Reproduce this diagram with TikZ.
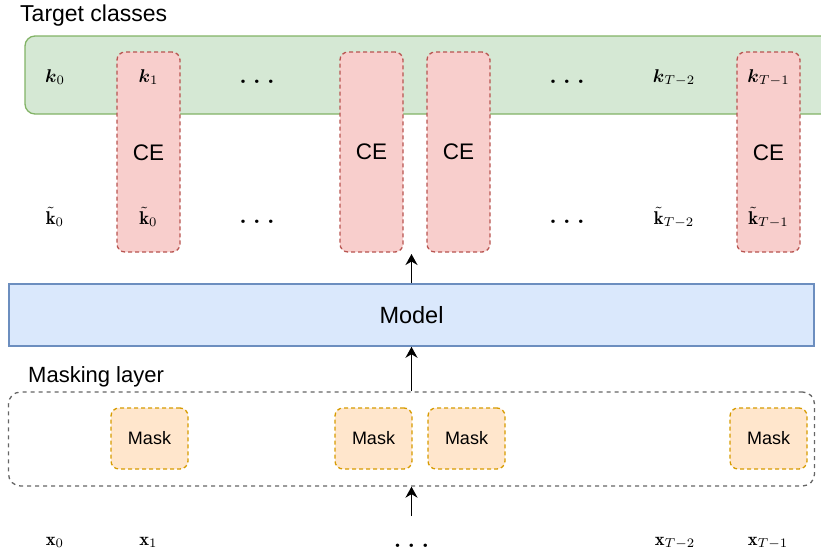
\RequirePackage{fix-cm}
\documentclass[tikz,border=0pt]{standalone}
\usepackage{amsmath}
\usepackage{graphicx}
\usepackage{fontspec}
\newfontfamily\lsans{Liberation Sans}
\usetikzlibrary{arrows.meta}

\definecolor{greenfill}{HTML}{D5E8D4}
\definecolor{greenline}{HTML}{82B366}
\definecolor{redfill}{HTML}{F8CECC}
\definecolor{redline}{HTML}{B85450}
\definecolor{bluefill}{HTML}{DAE8FC}
\definecolor{blueline}{HTML}{6C8EBF}
\definecolor{orangefill}{HTML}{FFE6CC}
\definecolor{orangeline}{HTML}{D79B00}
\definecolor{grayline}{HTML}{666666}

% math labels are set at 10pt and enlarged
\newcommand{\bigmath}[1]{\scalebox{1.85}{$#1$}}

\tikzset{
  mathlbl/.style={anchor=base, inner sep=0pt},
  dotslbl/.style={font=\fontsize{24}{26}\selectfont\bfseries, anchor=base, inner sep=0pt},
  title/.style={font=\lsans\fontsize{22}{26}\selectfont, anchor=west, inner sep=0pt},
  targetband/.style={draw=greenline, fill=greenfill, line width=1.3pt, rounded corners=10pt,
    minimum width=815pt, minimum height=78pt, inner sep=0pt},
  cebox/.style={draw=redline, fill=redfill, line width=1.3pt, dash pattern=on 4pt off 3pt,
    rounded corners=8pt, minimum width=63pt, minimum height=200pt, inner sep=0pt,
    font=\lsans\fontsize{22.5}{26}\selectfont},
  celbl/.style={font=\lsans\fontsize{22.5}{26}\selectfont},
  modelbox/.style={draw=blueline, fill=bluefill, line width=1.5pt,
    minimum width=805pt, minimum height=62pt, inner sep=0pt,
    font=\lsans\fontsize{23.5}{27}\selectfont},
  layerbox/.style={draw=grayline, line width=1.3pt, dash pattern=on 4pt off 4pt,
    rounded corners=12pt, minimum width=806pt, minimum height=94pt, inner sep=0pt},
  maskbox/.style={draw=orangeline, fill=orangefill, line width=1.3pt, dash pattern=on 4pt off 3pt,
    rounded corners=8pt, minimum width=77pt, minimum height=61pt, inner sep=0pt,
    font=\lsans\fontsize{18}{21}\selectfont},
  arr/.style={-{Stealth[length=11pt,width=12pt,inset=3.5pt]}, line width=1.6pt, black}
}

\begin{document}
\begin{tikzpicture}[x=1pt, y=-1pt]
  \useasboundingbox (0,0) rectangle (821,554);
  \clip (0,0) rectangle (821,554);

  % target classes band
  \node[title, font=\lsans\fontsize{23}{27}\selectfont] (ttitle) at (20,16) {Target classes};
  \node[targetband] (targets) at (432.5,75) {};

  % cross-entropy columns
  \node[cebox] (ce1) at (148.5,152) {};
  \node[cebox] (ce2) at (371.5,152) {CE};
  \node[cebox] (ce3) at (458.5,152) {CE};
  \node[cebox] (ce4) at (768.5,152) {};
  \node[celbl] (ce1txt) at (148.5,153) {CE};
  \node[celbl] (ce4txt) at (768.5,153) {CE};

  % target labels
  \node[mathlbl] (k0) at (55,82) {\bigmath{\boldsymbol{k}_0}};
  \node[mathlbl] (k1) at (148.5,82) {\bigmath{\boldsymbol{k}_1}};
  \node[dotslbl] (kd1) at (257,83) {.\hspace{6.3pt}.\hspace{6.3pt}.};
  \node[dotslbl] (kd2) at (567,83) {.\hspace{6.3pt}.\hspace{6.3pt}.};
  \node[mathlbl] (kT2) at (674,82) {\bigmath{\boldsymbol{k}_{T-2}}};
  \node[mathlbl] (kT1) at (768.5,82) {\bigmath{\boldsymbol{k}_{T-1}}};

  % predicted labels
  \node[mathlbl] (p0) at (55,224) {\bigmath{\tilde{\mathbf{k}}_0}};
  \node[mathlbl] (p1) at (148.5,224) {\bigmath{\tilde{\mathbf{k}}_0}};
  \node[dotslbl] (pd1) at (257,223) {.\hspace{6.3pt}.\hspace{6.3pt}.};
  \node[dotslbl] (pd2) at (567,223) {.\hspace{6.3pt}.\hspace{6.3pt}.};
  \node[mathlbl] (pT2) at (674,224) {\bigmath{\tilde{\mathbf{k}}_{T-2}}};
  \node[mathlbl] (pT1) at (768.5,224) {\bigmath{\tilde{\mathbf{k}}_{T-1}}};

  % model
  \node[modelbox] (model) at (411.5,315) {Model};
  \coordinate (out) at (411.5,254);

  % masking layer
  \node[title] (mtitle) at (28,377) {Masking layer};
  \node[layerbox] (layer) at (411.5,439) {};
  \node[maskbox] (m1) at (149.5,438.5) {Mask};
  \node[maskbox] (m2) at (373.5,438.5) {Mask};
  \node[maskbox] (m3) at (466.5,438.5) {Mask};
  \node[maskbox] (m4) at (768.5,438.5) {Mask};

  % inputs
  \node[mathlbl] (x0) at (55,545) {\bigmath{\mathbf{x}_0}};
  \node[mathlbl] (x1) at (148.5,545) {\bigmath{\mathbf{x}_1}};
  \node[dotslbl] (xd) at (411.5,547) {.\hspace{6.3pt}.\hspace{6.3pt}.};
  \node[mathlbl] (xT2) at (675,545) {\bigmath{\mathbf{x}_{T-2}}};
  \node[mathlbl] (xT1) at (768,545) {\bigmath{\mathbf{x}_{T-1}}};
  \coordinate (in) at (411.5,516);

  % data flow
  \draw[arr] (in) -- (layer.south);
  \draw[arr] (layer.north) -- (model.south);
  \draw[arr] (model.north) -- (out);
\end{tikzpicture}
\end{document}
